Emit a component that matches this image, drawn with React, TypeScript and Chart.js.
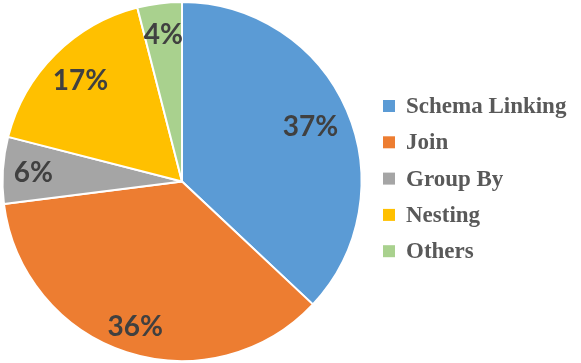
import React, { useEffect, useRef } from "react";
import { Chart, registerables } from "chart.js";

Chart.register(...registerables);

const categories = ["Schema Linking", "Join", "Group By", "Nesting", "Others"];
const shares = [37, 36, 6, 17, 4];
const colors = ["#5B9BD5", "#ED7D31", "#A5A5A5", "#FFC000", "#A9D18E"];
const labelRadius = [0.78, 0.845, 0.83, 0.8, 0.83];

const pieLabels = {
  id: "pieLabels",
  afterDatasetsDraw(chart: any) {
    const ctx = chart.ctx;
    const meta = chart.getDatasetMeta(0);
    ctx.save();
    ctx.font = "bold 28px Lato";
    ctx.fillStyle = "#404040";
    ctx.textAlign = "center";
    ctx.textBaseline = "middle";
    meta.data.forEach((arc: any, i: number) => {
      const p = arc.getProps(["x", "y", "startAngle", "endAngle", "outerRadius"], true);
      const a = (p.startAngle + p.endAngle) / 2;
      const r = p.outerRadius * labelRadius[i];
      ctx.fillText(shares[i] + "%", p.x + Math.cos(a) * r, p.y + Math.sin(a) * r + 1);
    });
    ctx.restore();
  },
};

const sideLegend = {
  id: "sideLegend",
  afterDraw(chart: any) {
    const ctx = chart.ctx;
    ctx.save();
    ctx.font = "bold 23px 'Liberation Serif'";
    ctx.textBaseline = "middle";
    ctx.textAlign = "left";
    categories.forEach((c, i) => {
      const y = 106 + i * 36.3;
      ctx.fillStyle = colors[i];
      ctx.fillRect(383, y - 6, 12, 12);
      ctx.fillStyle = "#595959";
      ctx.fillText(c, 406, y + 1);
    });
    ctx.restore();
  },
};

export default function App() {
  const ref = useRef<HTMLCanvasElement>(null);
  useEffect(() => {
    document.body.style.margin = "0";
    const chart = new Chart(ref.current!, {
      type: "pie",
      data: {
        labels: categories,
        datasets: [
          {
            data: shares,
            backgroundColor: colors,
            borderColor: "#FFFFFF",
            borderWidth: 2,
          },
        ],
      },
      options: {
        animation: false,
        responsive: false,
        layout: { padding: { left: 1, top: 1, bottom: 1, right: 218 } },
        plugins: { legend: { display: false }, tooltip: { enabled: false } },
      },
      plugins: [pieLabels, sideLegend],
    });
    return () => chart.destroy();
  }, []);
  return (
    <div style={{ width: 581, height: 363 }}>
      <canvas ref={ref} width={581} height={363} style={{ display: "block" }} />
    </div>
  );
}
